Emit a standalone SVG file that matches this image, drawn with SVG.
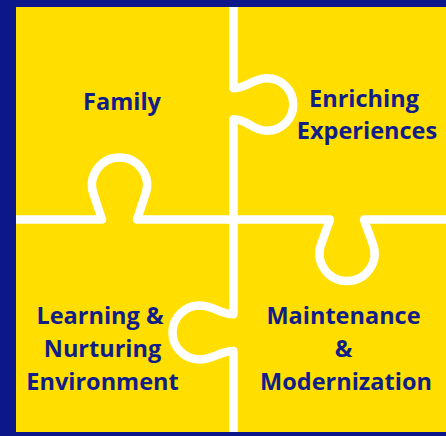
<svg xmlns="http://www.w3.org/2000/svg" width="446" height="436" viewBox="0 0 446 436">
<style>
.lbl{font-family:"Open Sans","Liberation Sans",sans-serif;font-weight:700;font-size:23.5px;fill:#111d88;text-anchor:middle}
.cut{fill:none;stroke:#ffffff;stroke-width:8.5;stroke-linejoin:round}
</style>
<rect x="0" y="0" width="446" height="436" fill="#0c178a"/>
<rect x="16" y="7" width="430" height="425" fill="#ffde00"/>
<g id="connectors">
<path class="cut" d="M233.5,7 V88.3 C248,88.3 252,78.25 267,78.25 A26.25,26.25 0 0 1 293.25,104.5 A26.25,26.25 0 0 1 267,130.75 C252,130.75 248,119.2 233.5,119.2 V314.2 C219,314.2 214.5,305.5 199.5,305.5 A27,27 0 0 0 172.5,332.5 A27,27 0 0 0 199.5,359.5 C214.5,359.5 219,351 233.5,351 V432"/>
<path class="cut" d="M16,219.5 H102 L93.41,193.68 A27.5,27.5 0 1 1 145.59,193.68 L137,219.5 H330 L321.12,244.21 A27.5,27.5 0 1 0 372.88,244.21 L364,219.5 H446"/>
</g>
<g id="family"><text class="lbl" x="122" y="110">Family</text></g>
<g id="enriching"><text class="lbl" x="364" y="107">Enriching</text><text class="lbl" x="367" y="138.5">Experiences</text></g>
<g id="learning"><text class="lbl" x="100" y="324">Learning &amp;</text><text class="lbl" x="102.5" y="357">Nurturing</text><text class="lbl" x="102.5" y="390">Environment</text></g>
<g id="maintenance"><text class="lbl" x="343.5" y="324">Maintenance</text><text class="lbl" x="343.5" y="357">&amp;</text><text class="lbl" x="346" y="390">Modernization</text></g>
</svg>
